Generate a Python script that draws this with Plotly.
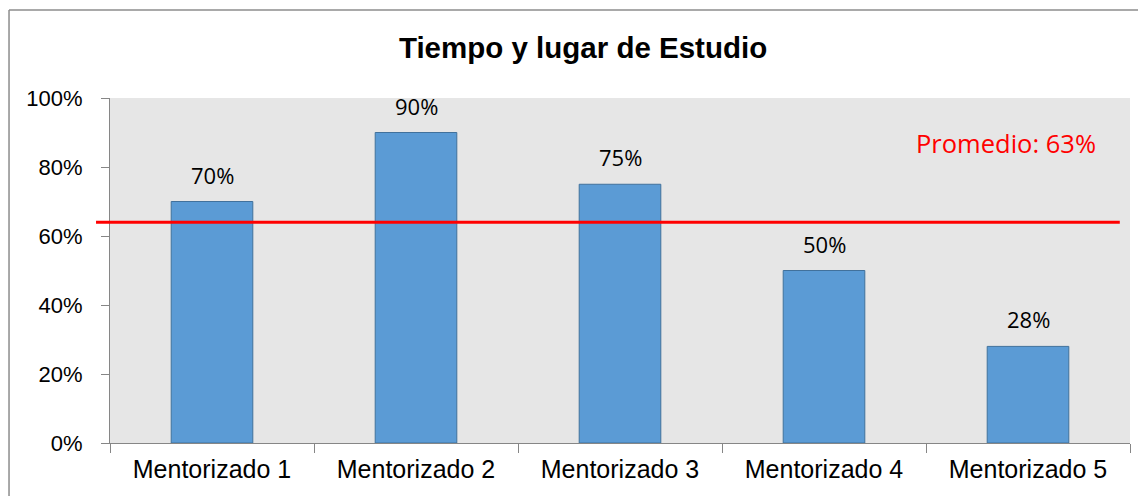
import plotly.graph_objects as go

# datos
categorias = ['Mentorizado 1', 'Mentorizado 2', 'Mentorizado 3', 'Mentorizado 4', 'Mentorizado 5']
valores = [70, 90, 75, 50, 28]
etiquetas = ['70%', '90%', '75%', '50%', '28%']
promedio_linea = 64
promedio_texto = 'Promedio: 63%'
y_ticks = [0, 20, 40, 60, 80, 100]
y_tick_labels = ['0%', '20%', '40%', '60%', '80%', '100%']

fig = go.Figure()

fig.add_trace(
    go.Bar(
        x=categorias,
        y=valores,
        marker=dict(color='#5b9bd5', line=dict(color='#41719c', width=1)),
        width=0.4,
        showlegend=False,
    )
)

# etiquetas sobre las barras
for cat, val, lab in zip(categorias, valores, etiquetas):
    fig.add_annotation(
        x=cat, y=val, text=lab, showarrow=False,
        yanchor='middle', yshift=27,
        font=dict(family='Open Sans', size=22, color='#000000'),
    )

# linea del promedio
fig.add_shape(
    type='line', xref='paper', yref='y',
    x0=-0.0137, x1=0.990, y0=promedio_linea, y1=promedio_linea,
    line=dict(color='#ff0000', width=3),
)
fig.add_annotation(
    xref='paper', yref='paper', x=0.878, y=0.870,
    xanchor='center', yanchor='middle',
    text=promedio_texto, showarrow=False,
    font=dict(family='Open Sans', size=25.5, color='#ff0000'),
)

# borde del area del grafico (izquierda y arriba)
fig.add_shape(type='line', xref='paper', yref='paper', x0=-0.099, x1=-0.099, y0=-0.3, y1=1.255,
              line=dict(color='#8c8c8c', width=1.5))
fig.add_shape(type='line', xref='paper', yref='paper', x0=-0.099, x1=1.1, y0=1.255, y1=1.255,
              line=dict(color='#8c8c8c', width=1.5))

fig.update_layout(
    title=dict(
        text='<b>Tiempo y lugar de Estudio</b>',
        x=0.5071, y=0.9187, xanchor='center', yanchor='middle',
        font=dict(family='Liberation Sans', size=29.5, color='#000000'),
    ),
    width=1134,
    height=488,
    margin=dict(l=102, r=12, t=90, b=53),
    paper_bgcolor='#ffffff',
    plot_bgcolor='#e6e6e6',
    font=dict(family='Liberation Sans', size=22, color='#000000'),
)

fig.update_xaxes(
    showline=True, linecolor='#868686', linewidth=1,
    ticks='outside', tickson='boundaries', ticklen=9, tickcolor='#868686',
    showgrid=False,
    ticklabelstandoff=4,
    tickfont=dict(family='Liberation Sans', size=25),
)
fig.update_yaxes(
    range=[0, 100],
    tickvals=y_ticks, ticktext=y_tick_labels,
    showline=True, linecolor='#868686', linewidth=1,
    ticks='outside', ticklen=8, tickcolor='#868686',
    showgrid=False, zeroline=False,
    ticklabelstandoff=14,
    tickfont=dict(family='Liberation Sans', size=22),
)

fig.write_html('out.html')
